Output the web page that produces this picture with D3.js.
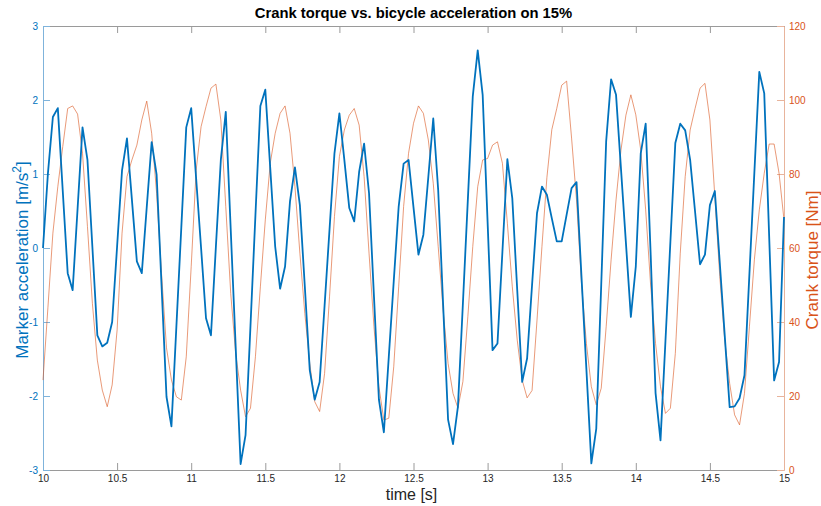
<!DOCTYPE html>
<html>
<head>
<meta charset="utf-8">
<script src="https://cdn.jsdelivr.net/npm/d3@7"></script>
<style>
  html, body { margin: 0; padding: 0; background: #fff; }
  svg { display: block; font-family: "Liberation Sans", Arial, Helvetica, sans-serif; }
</style>
</head>
<body>
<svg id="chart" width="821" height="506"></svg>
<script>
// Samples recorded at 30 Hz starting at t = 10 s
const startTime = 10;
const sampleRate = 30;

// Marker acceleration [m/s^2]
const acceleration = [
  0.00, 1.01, 1.77, 1.89, 0.77, -0.34, -0.57, 0.53, 1.63, 1.19,
  0.01, -1.18, -1.33, -1.28, -1.00, 0.02, 1.05, 1.48, 0.65, -0.18,
  -0.34, 0.55, 1.43, 0.99, -0.51, -2.01, -2.41, -1.06, 0.28, 1.63,
  1.89, 0.94, 0.00, -0.95, -1.18, 0.02, 1.19, 1.84, 0.25, -1.33,
  -2.92, -2.53, -1.05, 0.44, 1.92, 2.14, 1.08, 0.02, -0.55, -0.25,
  0.63, 1.09, 0.58, -0.52, -1.65, -2.05, -1.81, -0.78, 0.25, 1.28,
  1.82, 1.19, 0.54, 0.36, 1.03, 1.41, 0.74, -0.66, -2.05, -2.49,
  -1.47, -0.45, 0.56, 1.14, 1.19, 0.55, -0.09, 0.18, 0.96, 1.75,
  0.78, -0.77, -2.32, -2.65, -2.14, -0.75, 0.65, 2.05, 2.67, 2.07,
  0.35, -1.38, -1.29, -0.05, 1.20, 0.67, -0.57, -1.81, -1.49, -0.50,
  0.47, 0.83, 0.72, 0.40, 0.09, 0.09, 0.45, 0.81, 0.89, -0.38,
  -1.64, -2.91, -2.44, -0.50, 1.44, 2.28, 2.07, 1.07, 0.07, -0.93,
  -0.25, 1.28, 1.68, -0.07, -1.96, -2.60, -1.26, 0.08, 1.42, 1.68,
  1.59, 1.19, 0.49, -0.22, -0.09, 0.58, 0.77, -0.20, -1.18, -2.15,
  -2.14, -2.03, -1.72, -0.35, 1.02, 2.38, 2.09, 0.15, -1.79, -1.54,
  0.42
];

// Crank torque [Nm]
const torque = [
  24.3, 44.0, 64.0, 76.6, 87.4, 97.7, 98.4, 96.2, 85.6, 65.8,
  45.0, 29.7, 21.6, 17.1, 23.0, 37.8, 64.0, 79.3, 83.8, 87.8,
  94.6, 99.7, 91.0, 74.8, 53.0, 33.0, 24.3, 19.8, 18.9, 30.6,
  55.0, 81.0, 92.8, 98.2, 103.2, 104.3, 94.6, 71.2, 47.7, 31.5,
  21.6, 14.4, 16.7, 30.6, 49.5, 67.6, 82.9, 91.0, 96.4, 98.4,
  91.0, 76.6, 58.6, 42.3, 28.8, 18.5, 15.8, 26.1, 46.8, 68.5,
  84.7, 91.9, 95.9, 97.7, 93.2, 79.3, 58.6, 38.7, 22.5, 13.5,
  14.0, 27.9, 49.5, 71.2, 85.6, 93.7, 98.4, 96.4, 89.2, 77.5,
  60.4, 43.2, 28.8, 20.7, 16.7, 23.9, 41.4, 60.4, 76.6, 83.8,
  84.2, 87.8, 88.7, 82.9, 66.7, 49.5, 35.1, 24.3, 19.5, 21.5,
  40.5, 60.4, 79.0, 92.0, 97.7, 104.0, 105.1, 89.7, 73.0, 50.5,
  34.2, 22.5, 17.6, 22.1, 38.7, 56.8, 73.0, 86.5, 95.9, 101.4,
  96.0, 86.5, 70.3, 50.0, 34.2, 22.5, 15.3, 16.7, 31.5, 58.6,
  79.3, 91.9, 97.7, 103.2, 104.5, 94.6, 73.9, 52.3, 35.1, 23.4,
  14.9, 12.2, 20.7, 38.7, 56.8, 70.3, 80.2, 88.1, 88.1, 80.2,
  67.6
];

// Axis ticks
const timeTicks = [10, 10.5, 11, 11.5, 12, 12.5, 13, 13.5, 14, 14.5, 15];
const accelTicks = [-3, -2, -1, 0, 1, 2, 3];
const torqueTicks = [0, 20, 40, 60, 80, 100, 120];

const titleText = "Crank torque vs. bicycle acceleration on 15%";
const xLabel = "time [s]";
const rightLabel = "Crank torque [Nm]";

const blue = "#0072BD";
const orange = "#D95319";
const frameGrey = "#9a9a9a";

const margin = { left: 43, right: 37, top: 26, bottom: 36 };
const W = 821, H = 506;
const plotW = W - margin.left - margin.right;
const plotH = H - margin.top - margin.bottom;

const svg = d3.select("#chart");
const g = svg.append("g").attr("transform", `translate(${margin.left},${margin.top})`);

const x = d3.scaleLinear().domain([10, 15]).range([0, plotW]);
const yL = d3.scaleLinear().domain([-3, 3]).range([plotH, 0]);
const yR = d3.scaleLinear().domain([0, 120]).range([plotH, 0]);

const tOf = i => startTime + i / sampleRate;

// Axes (ticks point into the plot)
const tickLen = 7;
function styleAxis(sel, color, fontColor) {
  sel.select(".domain").attr("stroke", color).attr("stroke-width", 1);
  sel.selectAll(".tick line").attr("stroke", color).attr("stroke-width", 1);
  sel.selectAll(".tick text").attr("fill", fontColor).attr("font-size", 10)
     .attr("font-family", "\"Liberation Sans\", Arial, sans-serif");
}

const xBottom = g.append("g").attr("transform", `translate(0,${plotH})`)
  .call(d3.axisBottom(x).tickValues(timeTicks).tickFormat(d3.format("~g"))
        .tickSizeInner(-tickLen).tickSizeOuter(0).tickPadding(5));
styleAxis(xBottom, frameGrey, "#262626");

const xTop = g.append("g")
  .call(d3.axisTop(x).tickValues(timeTicks).tickFormat("")
        .tickSizeInner(-tickLen).tickSizeOuter(0));
styleAxis(xTop, frameGrey, "#262626");

const yLeft = g.append("g")
  .call(d3.axisLeft(yL).tickValues(accelTicks).tickFormat(d3.format("~g"))
        .tickSizeInner(-tickLen).tickSizeOuter(0).tickPadding(5));
styleAxis(yLeft, blue, blue);
yLeft.selectAll(".tick text").text(d => d < 0 ? "-" + Math.abs(d) : d);
yLeft.select(".domain").attr("stroke", "#7fb3db");
yLeft.selectAll(".tick line").attr("stroke", "#7fb3db");

const yRight = g.append("g").attr("transform", `translate(${plotW},0)`)
  .call(d3.axisRight(yR).tickValues(torqueTicks).tickFormat(d3.format("~g"))
        .tickSizeInner(-tickLen).tickSizeOuter(0).tickPadding(5));
styleAxis(yRight, orange, orange);
yRight.select(".domain").attr("stroke", "#e8b49c");
yRight.selectAll(".tick line").attr("stroke", "#e8b49c");

// Series
const lineTorque = d3.line().x((d, i) => x(tOf(i))).y(d => yR(d));
const lineAccel = d3.line().x((d, i) => x(tOf(i))).y(d => yL(d));

g.append("path").datum(torque)
  .attr("d", lineTorque)
  .attr("fill", "none")
  .attr("stroke", orange)
  .attr("stroke-opacity", 0.65)
  .attr("stroke-width", 0.9)
  .attr("stroke-linejoin", "round");

g.append("path").datum(acceleration)
  .attr("d", lineAccel)
  .attr("fill", "none")
  .attr("stroke", blue)
  .attr("stroke-width", 1.8)
  .attr("stroke-linejoin", "round");

// Title
svg.append("text")
  .attr("x", margin.left + plotW / 2).attr("y", 18)
  .attr("text-anchor", "middle")
  .attr("font-size", 14.8).attr("font-weight", "bold").attr("fill", "#000")
  .text(titleText);

// x label
svg.append("text")
  .attr("x", margin.left + plotW / 2 - 2).attr("y", 500)
  .attr("text-anchor", "middle")
  .attr("font-size", 16).attr("fill", "#262626")
  .text(xLabel);

// left label with superscript
const ll = svg.append("text")
  .attr("transform", `translate(28,${margin.top + plotH / 2 + 12}) rotate(-90)`)
  .attr("text-anchor", "middle")
  .attr("font-size", 17).attr("fill", blue);
ll.append("tspan").text("Marker acceleration [m/s");
ll.append("tspan").attr("dy", -7).attr("font-size", 12).text("2");
ll.append("tspan").attr("dy", 7).text("]");

// right label
svg.append("text")
  .attr("transform", `translate(818,${margin.top + plotH / 2 + 12}) rotate(-90)`)
  .attr("text-anchor", "middle")
  .attr("font-size", 17).attr("fill", orange)
  .text(rightLabel);
</script>
</body>
</html>
